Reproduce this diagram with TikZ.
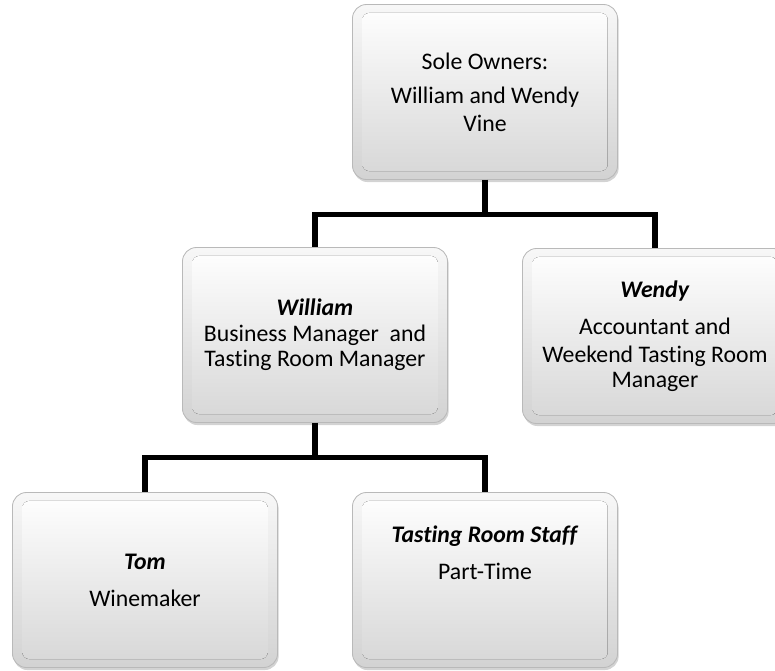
\documentclass[tikz,border=0pt]{standalone}
\usepackage{fontspec}
\setmainfont{Carlito}[Ligatures=NoCommon]
\usetikzlibrary{shadows}
\newcommand{\who}[1]{\textbf{\textit{#1}}}
\begin{document}
\begin{tikzpicture}[x=0.025cm,y=-0.025cm,
  box/.style={rectangle,rounded corners=10pt,minimum width=6.625cm,minimum height=4.375cm,
    inner sep=0pt,align=center,font=\fontsize{16.9}{19.9}\selectfont,
    draw=gray!55,line width=0.6pt,top color=gray!6,bottom color=gray!35,
    drop shadow={shadow xshift=0.8pt,shadow yshift=-1.8pt,opacity=0.35,fill=gray},
    path picture={\fill[top color=white,middle color=gray!6,bottom color=gray!32,rounded corners=5pt]
      ([shift={(7pt,-6pt)}]path picture bounding box.north west) rectangle
      ([shift={(-7pt,6pt)}]path picture bounding box.south east);}},
  link/.style={line width=3.6pt,line join=miter}]
\useasboundingbox (0,0) rectangle (775,670);

\node[box] (owners) at (485,92) {Sole Owners:\\[4.3pt] William and Wendy\\ Vine};
\node[box] (william) at (315,335) {\who{William}\\[-1.4pt] Business Manager~ and\\[-2.1pt] Tasting Room Manager};
\node[box] (wendy) at (655,336) {\who{Wendy}\\[6.4pt] Accountant and\\ Weekend Tasting Room\\[-2.1pt] Manager};
\node[box] (tom) at (145,580) {\who{Tom}\\[6.4pt] Winemaker};
\node[box] (staff) at (485,580) {\who{Tasting Room Staff}\\[6.4pt] Part-Time\\[19pt] \mbox{}};

\foreach \a/\b in {owners/william,owners/wendy,william/tom,william/staff}
  \draw[link] (\a.south) -- ++(0,34.5) -| (\b.north);
\end{tikzpicture}
\end{document}
